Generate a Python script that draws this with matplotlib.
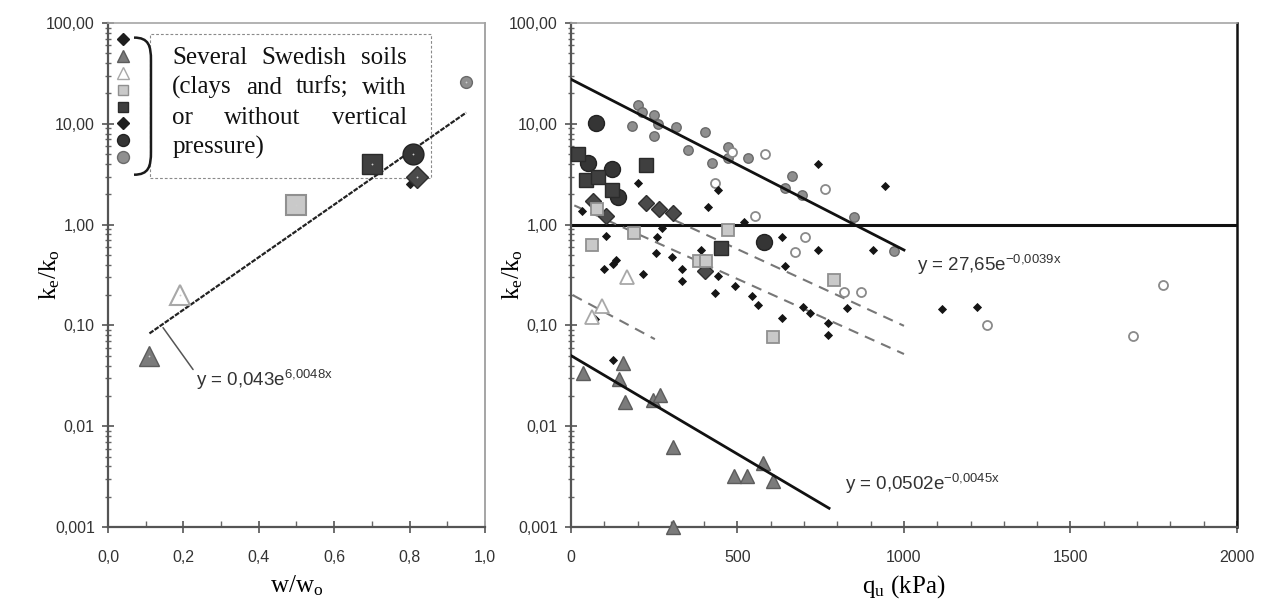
import numpy as np
import matplotlib
matplotlib.use('Agg')
import matplotlib.pyplot as plt
from matplotlib.path import Path
from matplotlib.patches import PathPatch, Rectangle
from matplotlib.lines import Line2D
from matplotlib.ticker import FixedLocator, LogLocator, NullFormatter, MultipleLocator

plt.rcParams['font.family'] = ['Liberation Sans', 'DejaVu Sans']

# ---- left panel: ke/ko against w/wo ----
wl_gray_tri = [0.11]
kl_gray_tri = [0.05]
wl_open_tri = [0.19]
kl_open_tri = [0.20]
wl_light_sq = [0.50]
kl_light_sq = [1.55]
wl_dark_sq = [0.70]
kl_dark_sq = [4.0]
wl_dark_dia = [0.82]
kl_dark_dia = [3.0]
wl_small_dia = [0.80]
kl_small_dia = [2.5]
wl_dark_circ = [0.81]
kl_dark_circ = [5.0]
wl_gray_circ = [0.95]
kl_gray_circ = [26.0]

fit_left = (0.043, 6.0048, 0.11, 0.95)   # a, b, x from, x to

# ---- right panel: ke/ko against qu ----
q_black_dia = [743, 943, 202, 442, 412, 32, 520, 105, 274, 259, 390, 633, 743, 906,
               255, 302, 135, 127, 99, 215, 332, 332, 442, 643, 432, 492, 545, 563,
               633, 697, 718, 72, 828, 773, 773, 1113, 1218, 127]
k_black_dia = [4.0, 2.4, 2.6, 2.2, 1.48, 1.38, 1.06, 0.77, 0.93, 0.755, 0.565, 0.755,
               0.565, 0.565, 0.525, 0.48, 0.45, 0.41, 0.364, 0.327, 0.364, 0.275, 0.31,
               0.39, 0.21, 0.245, 0.195, 0.158, 0.119, 0.153, 0.134, 0.117, 0.15,
               0.106, 0.08, 0.144, 0.153, 0.045]
q_gray_circ = [202, 214, 250, 262, 182, 314, 250, 402, 352, 472, 472, 422, 532, 663,
               643, 693, 851, 971]
k_gray_circ = [15.4, 13.2, 12.3, 10.0, 9.6, 9.4, 7.5, 8.2, 5.5, 5.9, 4.6, 4.1, 4.6,
               3.06, 2.3, 1.98, 1.19, 0.55]
q_open_circ = [484, 583, 763, 432, 552, 703, 673, 821, 871, 1249, 1688, 1778]
k_open_circ = [5.2, 5.0, 2.27, 2.59, 1.21, 0.755, 0.53, 0.216, 0.216, 0.10, 0.078, 0.25]
q_dark_circ = [74, 52, 124, 142, 581]
k_dark_circ = [10.2, 4.1, 3.6, 1.88, 0.67]
q_dark_sq = [22, 44, 82, 122, 224, 452]
k_dark_sq = [5.0, 2.8, 3.0, 2.19, 3.87, 0.59]
q_dark_dia = [67, 105, 224, 265, 305, 402]
k_dark_dia = [1.70, 1.23, 1.64, 1.44, 1.31, 0.35]
q_light_sq = [79, 62, 189, 472, 384, 404, 791, 608]
k_light_sq = [1.43, 0.63, 0.83, 0.89, 0.44, 0.44, 0.28, 0.077]
q_open_tri = [167, 92, 62]
k_open_tri = [0.30, 0.155, 0.122]
q_gray_tri = [35, 155, 145, 162, 247, 267, 305, 491, 528, 578, 608, 307]
k_gray_tri = [0.0335, 0.0428, 0.0297, 0.0174, 0.0182, 0.0203, 0.00615, 0.00318,
              0.00322, 0.00428, 0.00288, 0.001]

fit_upper = (27.65, -0.0039, 0, 1000)
fit_lower = (0.0502, -0.0045, 0, 775)
dash_q = [[310, 1000], [10, 1000], [5, 252]]
dash_k = [[1.11, 0.099], [1.55, 0.052], [0.20, 0.073]]

y_ticks = [0.001, 0.01, 0.1, 1, 10, 100]
y_labels = ['0,001', '0,01', '0,10', '1,00', '10,00', '100,00']
x_ticks_left = [0.0, 0.2, 0.4, 0.6, 0.8, 1.0]
x_labels_left = ['0,0', '0,2', '0,4', '0,6', '0,8', '1,0']
x_ticks_right = [0, 500, 1000, 1500, 2000]

box_lines = ['Several Swedish soils', '(clays and turfs; with',
             'or without vertical', 'pressure)']

# marker styles: marker, size, face, edge, edge width
DARK = '#3f3f3f'
styles_left = {
    'small_dia': ('D', 4.2, '#1e1e1e', '#1e1e1e', 0.8),
    'gray_tri': ('^', 14, '#7b7b7b', '#5c5c5c', 1.0),
    'open_tri': ('^', 14, 'white', '#a8a8a8', 1.5),
    'light_sq': ('s', 14, '#c9c9c9', '#909090', 1.5),
    'dark_sq': ('s', 15, DARK, '#2a2a2a', 1.0),
    'dark_dia': ('D', 11, '#4a4a4a', '#2f2f2f', 1.0),
    'dark_circ': ('o', 15, '#353535', '#222222', 1.0),
    'gray_circ': ('o', 8.5, '#8f8f8f', '#6a6a6a', 1.0),
}
styles_right = {
    'black_dia': ('D', 3.8, '#151515', '#151515', 0.6),
    'gray_circ': ('o', 6.8, '#8f8f8f', '#6a6a6a', 1.0),
    'open_circ': ('o', 6.5, 'white', '#8a8a8a', 1.3),
    'dark_circ': ('o', 11.5, '#353535', '#222222', 1.0),
    'dark_sq': ('s', 9.5, DARK, '#2a2a2a', 1.0),
    'dark_dia': ('D', 8.5, '#4a4a4a', '#2f2f2f', 1.0),
    'light_sq': ('s', 8.5, '#c9c9c9', '#909090', 1.3),
    'open_tri': ('^', 10, 'white', '#a8a8a8', 1.3),
    'gray_tri': ('^', 9.5, '#7b7b7b', '#5c5c5c', 1.0),
}


def plotPoints(ax, x, y, style, z=4, dot=False):
    m, s, fc, ec, lw = style
    ax.plot(x, y, ls='none', marker=m, ms=s, mfc=fc, mec=ec, mew=lw, zorder=z, clip_on=False)
    if dot:
        ax.plot(x, y, ls='none', marker='o', ms=1.3, mfc='#cccccc', mec='none', zorder=z + 0.1)


def styleAxes(ax, xticks, xlabels, xminor, right_color, right_lw):
    ax.set_yscale('log')
    ax.set_ylim(0.001, 100)
    ax.yaxis.set_major_locator(FixedLocator(y_ticks))
    ax.set_yticklabels(y_labels)
    ax.yaxis.set_minor_locator(LogLocator(base=10, subs=range(2, 10)))
    ax.yaxis.set_minor_formatter(NullFormatter())
    ax.set_xticks(xticks)
    ax.set_xticklabels(xlabels)
    ax.xaxis.set_minor_locator(MultipleLocator(xminor))
    ax.tick_params(axis='y', which='major', direction='inout', length=9, width=1.2,
                   color='#555555', pad=5, labelsize=11.5, labelcolor='#333333')
    ax.tick_params(axis='y', which='minor', direction='inout', length=5, width=1.0, color='#666666')
    ax.tick_params(axis='x', which='major', direction='inout', length=9, width=1.2,
                   color='#555555', pad=12, labelsize=11.5, labelcolor='#333333')
    ax.tick_params(axis='x', which='minor', direction='in', length=4, width=1.0, color='#666666')
    for side in ['left', 'bottom']:
        ax.spines[side].set_color('#555555')
        ax.spines[side].set_linewidth(1.6)
    ax.spines['top'].set_color('#a5a5a5')
    ax.spines['top'].set_linewidth(1.2)
    ax.spines['right'].set_color(right_color)
    ax.spines['right'].set_linewidth(right_lw)


def justifiedText(ax, lines, x0, x1, y_top, dy, **kw):
    r = ax.figure.canvas.get_renderer()
    axw = ax.get_window_extent(r).width
    for i, line in enumerate(lines):
        words = line.split()
        y = y_top - i * dy
        texts = [ax.text(0, y, w, transform=ax.transAxes, ha='left', va='baseline', **kw) for w in words]
        widths = [t.get_window_extent(r).width / axw for t in texts]
        if i == len(lines) - 1 or len(words) == 1:
            gap = 0.02
        else:
            gap = (x1 - x0 - sum(widths)) / (len(words) - 1)
        x = x0
        for t, w in zip(texts, widths):
            t.set_x(x)
            x += w + gap


fig = plt.figure(figsize=(12.66, 5.99), dpi=100)
axL = fig.add_axes([0.0853, 0.1202, 0.2978, 0.8414])
axR = fig.add_axes([0.4510, 0.1202, 0.5261, 0.8414])

serif = ['Liberation Serif', 'DejaVu Serif']

# ---------- left ----------
styleAxes(axL, x_ticks_left, x_labels_left, 0.1, '#a5a5a5', 1.4)
axL.set_xlim(0, 1)
a, b, x0, x1 = fit_left
xs = np.linspace(x0, x1, 50)
axL.plot(xs, a * np.exp(b * xs), color='#222222', lw=1.6, ls=(0, (2.2, 0.6)), zorder=3)

plotPoints(axL, wl_gray_tri, kl_gray_tri, styles_left['gray_tri'], dot=True)
plotPoints(axL, wl_open_tri, kl_open_tri, styles_left['open_tri'], dot=True)
plotPoints(axL, wl_light_sq, kl_light_sq, styles_left['light_sq'], dot=True)
plotPoints(axL, wl_dark_sq, kl_dark_sq, styles_left['dark_sq'], dot=True)
plotPoints(axL, wl_small_dia, kl_small_dia, styles_left['small_dia'])
plotPoints(axL, wl_dark_dia, kl_dark_dia, styles_left['dark_dia'], dot=True)
plotPoints(axL, wl_dark_circ, kl_dark_circ, styles_left['dark_circ'], dot=True)
plotPoints(axL, wl_gray_circ, kl_gray_circ, styles_left['gray_circ'], dot=True)

axL.annotate(r'y = 0,043e$^{\mathregular{6{,}0048x}}$', xy=(0.146, 0.095), xytext=(0.233, 0.029),
             ha='left', va='center', fontsize=13.5, color='#333333',
             arrowprops=dict(arrowstyle='-', color='#555555', lw=1.1, shrinkA=0, shrinkB=0,
                             relpos=(0.0, 0.75)))

# key with bracket and boxed note
order = ['small_dia', 'gray_tri', 'open_tri', 'light_sq', 'dark_sq', 'small_dia', 'dark_circ', 'gray_circ']
key_handles = []
for k in order:
    m, s, fc, ec, lw = styles_left[k]
    if m == 's':
        size = 7.6
    elif m == 'D':
        size = 6.0
    else:
        size = 8.6
    key_handles.append(Line2D([], [], ls='none', marker=m, ms=size, mfc=fc, mec=ec, mew=1.0))
leg = axL.legend(key_handles, [''] * len(order), loc='upper left', bbox_to_anchor=(0.026, 0.977),
                 frameon=False, fontsize=8, handlelength=1.0, handletextpad=0.0, borderpad=0,
                 borderaxespad=0, labelspacing=0.55, handleheight=1.0)

brace = Path([(0.069, 0.971), (0.108, 0.971), (0.114, 0.955), (0.114, 0.925),
              (0.114, 0.745), (0.114, 0.715), (0.108, 0.699), (0.069, 0.699)],
             [Path.MOVETO, Path.CURVE4, Path.CURVE4, Path.CURVE4,
              Path.LINETO, Path.CURVE4, Path.CURVE4, Path.CURVE4])
axL.add_patch(PathPatch(brace, transform=axL.transAxes, fill=False, lw=1.8, ec='#1a1a1a', zorder=5))
axL.add_patch(Rectangle((0.111, 0.692), 0.745, 0.286, transform=axL.transAxes, fill=False,
                        ls=(0, (2.5, 1.8)), lw=0.8, ec='#8a8a8a', zorder=2))

axL.set_xlabel(r'$\mathregular{w/w_o}$', family=serif, fontsize=18, labelpad=6)
axL.set_ylabel(r'$\mathregular{k_e/k_o}$', family=serif, fontsize=18)
axL.yaxis.set_label_coords(-0.122, 0.5)

# ---------- right ----------
styleAxes(axR, x_ticks_right, [str(v) for v in x_ticks_right], 100, '#111111', 1.8)
axR.set_xlim(0, 2000)
axR.axhline(1.0, color='#111111', lw=2.2, zorder=2)
for (a, b, x0, x1) in [fit_upper, fit_lower]:
    xs = np.linspace(x0, x1, 50)
    axR.plot(xs, a * np.exp(b * xs), color='#111111', lw=2.0, zorder=6)
for dq, dk in zip(dash_q, dash_k):
    axR.plot(dq, dk, color='#777777', lw=1.5, ls=(0, (5, 3.5)), zorder=2.5)

plotPoints(axR, q_gray_circ, k_gray_circ, styles_right['gray_circ'])
plotPoints(axR, q_open_circ, k_open_circ, styles_right['open_circ'])
plotPoints(axR, q_black_dia, k_black_dia, styles_right['black_dia'])
plotPoints(axR, q_dark_circ, k_dark_circ, styles_right['dark_circ'])
plotPoints(axR, q_dark_sq, k_dark_sq, styles_right['dark_sq'])
plotPoints(axR, q_dark_dia, k_dark_dia, styles_right['dark_dia'])
plotPoints(axR, q_light_sq, k_light_sq, styles_right['light_sq'])
plotPoints(axR, q_open_tri, k_open_tri, styles_right['open_tri'])
plotPoints(axR, q_gray_tri, k_gray_tri, styles_right['gray_tri'])

axR.text(1039, 0.40, r'y = 27,65e$^{\mathregular{-0{,}0039x}}$', ha='left', va='center',
         fontsize=13.5, color='#333333')
axR.text(823, 0.00267, r'y = 0,0502e$^{\mathregular{-0{,}0045x}}$', ha='left', va='center',
         fontsize=13.5, color='#333333')

axR.set_xlabel(r'$\mathregular{q_u}$ (kPa)', family=serif, fontsize=18, labelpad=6)
axR.set_ylabel(r'$\mathregular{k_e/k_o}$', family=serif, fontsize=18)
axR.yaxis.set_label_coords(-0.069, 0.5)

justifiedText(axL, box_lines, 0.170, 0.793, 0.919, 0.0595, family=serif, fontsize=18, color='#111111')

fig.savefig('out.png', dpi=100)
